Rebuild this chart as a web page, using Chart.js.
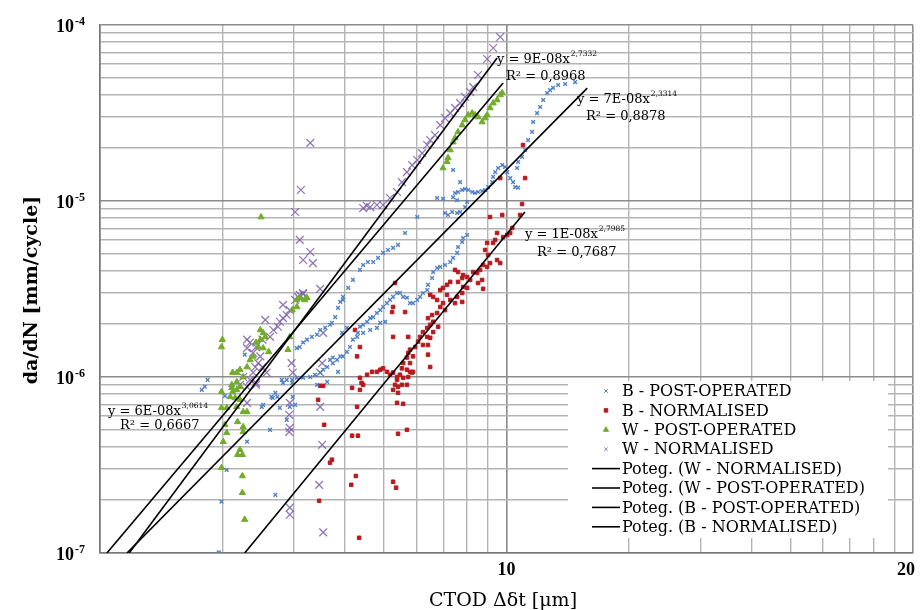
<!DOCTYPE html>
<html>
<head>
<meta charset="utf-8">
<script src="https://cdn.jsdelivr.net/npm/chart.js@4.4.0/dist/chart.umd.min.js"></script>
<style>
  body { margin: 0; background: #fff; }
  #wrap { width: 923px; height: 610px; }
</style>
</head>
<body>
<div id="wrap"><canvas id="fatigueChart" width="923" height="610"></canvas></div>
<script>
// da/dN vs CTOD - punkty pomiarowe [x, y]
const bPostOperated = [
  [6.75,1.04e-5],[6.98,1.03e-5],[7.39,1.05e-5],[7.47,1.11e-5],[7.60,1.125e-5],[7.78,1.155e-5],[7.91,1.17e-5],
  [8.05,1.155e-5],[8.23,1.125e-5],[8.37,1.11e-5],[8.51,1.125e-5],[8.71,1.14e-5],[8.86,1.155e-5],[9.01,1.20e-5],
  [9.22,1.28e-5],[9.27,1.37e-5],[9.38,1.46e-5],[9.54,1.54e-5],[9.76,1.60e-5],[9.92,1.56e-5],[10.04,1.46e-5],
  [10.21,1.35e-5],[10.38,1.28e-5],[10.50,1.20e-5],[10.68,1.19e-5],[10.62,1.54e-5],[10.68,1.67e-5],[10.92,1.78e-5],
  [11.11,1.95e-5],[11.30,2.22e-5],[11.56,2.47e-5],[11.63,2.81e-5],[11.89,3.16e-5],[12.10,3.42e-5],[12.31,3.75e-5],
  [12.59,4.11e-5],[12.80,4.27e-5],[13.02,4.39e-5],[13.40,4.56e-5],[13.94,4.62e-5],[14.75,4.74e-5],[7.39,1.50e-5],
  [7.69,1.28e-5],[7.06,8.55e-6],[7.18,8.33e-6],[7.35,8.66e-6],[7.56,8.55e-6],[7.69,8.66e-6],[7.91,9.24e-6],
  [8.00,9.87e-6],[7.56,1.01e-5],[6.03,8.11e-6],
  [8.00,6.41e-6],[7.82,6.16e-6],[7.78,5.85e-6],[7.60,5.48e-6],[7.56,5.07e-6],[7.39,4.75e-6],[7.27,4.50e-6],
  [7.06,4.33e-6],[6.87,4.22e-6],[6.75,4.16e-6],[6.60,3.95e-6],[6.56,3.65e-6],[6.41,3.34e-6],[6.38,3.12e-6],
  [6.23,3.0e-6],[6.13,2.85e-6],[6.03,2.74e-6],[5.89,2.63e-6],[5.79,2.63e-6],[5.69,2.82e-6],[5.57,2.85e-6],
  [5.47,3.0e-6],[5.38,3.0e-6],[5.26,2.85e-6],[5.17,2.74e-6],[5.08,2.63e-6],[4.97,2.50e-6],[4.89,2.40e-6],
  [4.80,2.31e-6],[4.70,2.19e-6],[4.62,2.16e-6],[4.54,2.06e-6],[4.44,1.98e-6],[4.36,1.93e-6],[4.31,1.78e-6],
  [4.44,1.78e-6],[4.62,1.85e-6],[4.80,1.90e-6],[4.89,2.03e-6],[5.03,2.06e-6],[4.29,1.69e-6],[4.19,1.63e-6],
  [4.12,1.48e-6],[4.05,1.39e-6],[3.96,1.31e-6],[3.90,1.31e-6],[3.83,1.25e-6],[3.74,1.20e-6],[3.85,1.07e-6],
  [5.63,6.58e-6],[5.41,5.63e-6],[5.26,5.41e-6],[5.11,5.27e-6],[4.97,5.07e-6],[4.83,4.75e-6],[4.70,4.50e-6],
  [4.56,4.50e-6],[4.44,4.33e-6],[4.36,4.06e-6],[4.19,3.56e-6],[4.08,3.21e-6],[3.96,2.74e-6],[3.85,2.47e-6],
  [3.79,2.19e-6],[3.72,2.03e-6],
  [3.96,2.85e-6],[3.90,2.67e-6],[3.68,1.98e-6],[3.58,1.90e-6],[3.48,1.85e-6],[3.42,1.74e-6],[3.32,1.69e-6],
  [3.23,1.63e-6],[3.16,1.57e-6],[3.10,1.48e-6],[3.05,1.46e-6],[4.05,1.90e-6],[3.94,1.78e-6],[3.74,1.29e-6],
  [3.68,1.25e-6],[3.62,1.14e-6],[3.54,1.10e-6],[3.48,1.06e-6],[3.38,1.03e-6],[3.29,1.00e-6],[3.16,9.9e-7],
  [3.05,9.9e-7],[2.97,9.63e-7],[2.88,9.63e-7],[2.80,9.63e-7],[2.73,7.71e-7],[2.66,7.61e-7],[2.27,1.34e-6],
  [2.70,8.13e-7],[2.64,7.71e-7],[2.52,6.95e-7],[2.50,6.77e-7],[2.77,6.68e-7],[2.93,6.77e-7],[3.02,6.95e-7],
  [2.98,7.71e-7],[2.88,5.71e-7],[2.62,5.01e-7],[2.30,4.29e-7],[2.05,2.97e-7],[2.70,2.14e-7],[1.99,1.96e-7],
  [1.96,1.01e-7],[2.03,7.82e-7],[1.78,8.45e-7],[1.81,8.80e-7],[1.84,9.63e-7],[2.97,9.26e-7],[2.82,9.26e-7],
  [3.42,9.03e-7],[3.62,9.38e-7]
];

const bNormalised = [
  [10.92,9.61e-6],[10.80,8.33e-6],[10.33,7.03e-6],[10.21,6.58e-6],[10.04,6.41e-6],[9.81,6.24e-6],[9.76,8.33e-6],
  [9.48,6.58e-6],[9.38,6.01e-6],[9.27,5.78e-6],[9.11,8.11e-6],[8.96,5.78e-6],[8.86,5.27e-6],[9.01,4.94e-6],
  [9.48,4.62e-6],[9.65,4.44e-6],[9.11,4.44e-6],[8.96,4.22e-6],[8.76,4.33e-6],[8.61,4.06e-6],[8.47,3.90e-6],
  [8.28,3.95e-6],[8.71,3.56e-6],[8.51,3.42e-6],[8.76,3.17e-6],[8.14,3.56e-6],[8.00,3.70e-6],[7.82,3.80e-6],
  [7.78,3.65e-6],[7.60,3.95e-6],[7.47,4.06e-6],[7.60,3.47e-6],[7.82,3.25e-6],[8.00,3.21e-6],[7.78,3.0e-6],
  [7.56,2.85e-6],[7.27,3.47e-6],[7.14,3.34e-6],[6.98,3.21e-6],[6.87,3.12e-6],[7.14,2.93e-6],[7.27,2.74e-6],
  [7.78,2.67e-6],[7.47,2.63e-6],[6.98,2.63e-6],[6.87,2.50e-6],[6.60,2.85e-6],[6.49,2.93e-6],[6.75,2.74e-6],
  [7.06,2.40e-6],[6.75,2.31e-6],[6.56,2.25e-6],[6.41,2.16e-6],[6.60,2.06e-6],[6.79,1.93e-6],[6.49,1.98e-6],
  [6.38,1.90e-6],[6.60,1.80e-6],[6.23,1.80e-6],[6.13,1.69e-6],[6.38,1.69e-6],[6.49,1.67e-6],[6.06,1.59e-6],
  [6.23,1.52e-6],[6.41,1.52e-6],[5.96,1.48e-6],[5.79,1.43e-6],[5.89,1.31e-6],[5.73,1.37e-6],[5.69,1.29e-6],
  [5.57,1.20e-6],[5.79,1.20e-6],[5.53,1.12e-6],[5.69,1.10e-6],[5.86,1.06e-6],[6.49,1.14e-6],[6.41,1.34e-6],
  [5.26,1.69e-6],[5.73,1.69e-6],[5.32,3.42e-6],[5.26,2.50e-6],[5.63,2.34e-6],[5.23,2.34e-6],[4.24,1.85e-6],
  [4.36,1.48e-6],[4.29,1.31e-6],
  [4.54,1.03e-6],[4.67,1.07e-6],[4.80,1.07e-6],[4.89,1.10e-6],[4.97,1.12e-6],[5.08,1.07e-6],[5.17,1.03e-6],
  [5.38,1.00e-6],[5.47,1.03e-6],[5.26,1.06e-6],
  [4.36,9.9e-7],[4.44,9.03e-7],[4.40,9.26e-7],[4.17,8.68e-7],[4.36,8.45e-7],[4.29,6.77e-7],[5.38,9.63e-7],
  [5.57,9.90e-7],[5.73,1.00e-6],[5.79,1.07e-6],[5.89,1.07e-6],[5.32,9.03e-7],[5.41,8.80e-7],[5.53,9.03e-7],
  [5.69,9.03e-7],[5.26,8.45e-7],[5.41,8.13e-7],[5.38,7.13e-7],[5.57,7.04e-7],[4.17,4.64e-7],[4.31,4.64e-7],
  [5.41,4.76e-7],[5.69,5.01e-7],[3.72,3.39e-7],[3.68,3.26e-7],[4.26,2.74e-7],[4.15,2.44e-7],[5.26,2.54e-7],
  [5.35,2.35e-7],[4.34,1.22e-7],[3.44,7.42e-7],[3.56,5.35e-7],[3.46,1.98e-7],[3.48,8.91e-7],[3.54,8.91e-7],
  [10.98,2.08e-5],[11.11,1.35e-5],[9.65,1.35e-5]
];

const wPostOperated = [
  [6.98,1.54e-5],[7.14,1.67e-5],[7.18,1.76e-5],[7.27,1.95e-5],[7.39,2.16e-5],[7.47,2.28e-5],[7.60,2.47e-5],
  [7.78,2.70e-5],[7.91,2.89e-5],[8.05,3.08e-5],[8.23,3.16e-5],[8.37,3.08e-5],[8.51,3.00e-5],[8.71,2.81e-5],
  [8.86,2.96e-5],[8.96,3.08e-5],[9.11,3.38e-5],[9.27,3.60e-5],[9.48,3.75e-5],[9.65,4.00e-5],[9.76,4.11e-5],
  [2.49,8.11e-6],[3.05,2.74e-6],[3.10,2.82e-6],[3.19,2.74e-6],[3.23,2.82e-6],[3.05,2.50e-6],[2.97,2.40e-6],
  [2.48,1.85e-6],[2.52,1.78e-6],[2.55,1.69e-6],[2.48,1.63e-6],[2.42,1.57e-6],[2.45,1.48e-6],[2.52,1.46e-6],
  [2.60,1.39e-6],[2.90,1.43e-6],[2.93,1.69e-6],[2.38,1.31e-6],[2.34,1.25e-6],[2.30,1.14e-6],[2.21,1.10e-6],
  [2.17,1.06e-6],[2.12,1.06e-6],[2.25,1.00e-6],[2.17,9.38e-7],[2.11,9.03e-7],[2.21,8.80e-7],[2.00,1.63e-6],
  [1.99,1.48e-6],[1.99,8.23e-7],[2.12,8.23e-7],[2.09,7.71e-7],[2.11,8.68e-7],[2.17,8.45e-7],[2.15,7.61e-7],
  [2.21,7.42e-7],[1.99,6.68e-7],[2.05,6.68e-7],[2.17,6.77e-7],[2.25,6.34e-7],[2.30,6.34e-7],[2.18,5.56e-7],
  [2.03,5.35e-7],[2.05,4.82e-7],[2.25,5.21e-7],[2.25,4.88e-7],[2.01,4.29e-7],[2.21,3.86e-7],[2.18,3.62e-7],
  [2.24,3.62e-7],[1.99,3.05e-7],[2.24,2.74e-7],[2.24,2.20e-7],[2.27,1.55e-7]
];

const wNormalised = [
  [4.44,9.12e-6],[4.53,9.4e-6],[4.62,9.24e-6],[4.80,9.49e-6],[4.97,9.49e-6],[5.17,1.04e-5],[5.38,1.125e-5],
  [5.53,1.28e-5],[5.69,1.46e-5],[5.86,1.60e-5],[6.03,1.71e-5],[6.20,1.87e-5],[6.38,2.08e-5],[6.49,2.22e-5],
  [6.67,2.37e-5],[6.87,2.70e-5],[7.06,2.96e-5],[7.27,3.16e-5],[7.47,3.38e-5],[7.69,3.60e-5],[7.91,3.90e-5],
  [8.14,4.16e-5],[8.28,4.44e-5],[8.51,5.20e-5],[8.96,6.41e-5],[9.27,7.40e-5],[9.65,8.55e-5],
  [3.02,8.66e-6],[3.12,1.155e-5],[3.29,2.14e-5],[3.10,6.01e-6],[3.29,5.13e-6],[3.16,4.62e-6],[3.34,4.44e-6],
  [3.48,3.17e-6],[3.16,2.96e-6],[3.07,2.85e-6],[3.02,2.74e-6],[3.10,2.93e-6],[2.93,2.40e-6],[2.88,2.25e-6],
  [2.82,2.16e-6],[2.77,2.06e-6],[2.74,1.93e-6],[2.67,1.85e-6],[2.62,1.69e-6],[2.51,1.63e-6],[2.42,1.48e-6],
  [2.34,1.57e-6],[2.30,1.63e-6],[2.30,1.46e-6],[2.38,1.37e-6],[2.48,1.31e-6],[2.45,1.20e-6],[2.41,1.14e-6],
  [2.51,1.14e-6],[2.57,1.06e-6],[2.38,1.06e-6],[2.34,9.63e-7],[2.25,1.00e-6],[2.21,9.03e-7],[2.30,8.80e-7],
  [2.42,9.26e-7],[2.42,9.03e-7],[2.30,7.13e-7],[2.93,7.13e-7],[2.92,6.10e-7],[2.93,5.14e-7],[2.92,4.88e-7],
  [3.48,6.77e-7],[3.54,1.78e-6],[3.52,1.20e-6],[3.48,1.06e-6],[2.96,1.20e-6],[2.98,1.06e-6],[3.16,3.0e-6],
  [3.52,4.12e-7],[3.46,2.44e-7],[2.93,1.81e-7],[2.93,1.65e-7],[3.54,1.31e-7],[2.55,2.11e-6],[2.82,2.57e-6]
];

// linie trendu (potęgowe) - końce odcinków
const trendWNormalised = [[1.04, 1e-7], [9.81, 4.68e-5]];
const trendWPostOperated = [[1.18, 1e-7], [9.48, 6.49e-5]];
const trendBPostOperated = [[1.165, 1e-7], [15.8, 4.38e-5]];
const trendBNormalised = [[2.27, 1e-7], [11.1, 8.66e-6]];

// podpisy osi
const xTickLabels = [[10, '10'], [100, '20']];
const yTickExponents = [-7, -6, -5, -4];

// równania linii trendu
const fitEquations = [
  { coef: 'y = 9E-08x', power: '2,7332', r2: 'R² = 0,8968', x: 497, y: 60, rx: 506, ry: 77 },
  { coef: 'y = 7E-08x', power: '2,3314', r2: 'R² = 0,8878', x: 577, y: 100, rx: 586, ry: 117 },
  { coef: 'y = 1E-08x', power: '2,7985', r2: 'R² = 0,7687', x: 525, y: 235, rx: 537, ry: 253 },
  { coef: 'y = 6E-08x', power: '3,0614', r2: 'R² = 0,6667', x: 108, y: 412, rx: 120, ry: 426 }
];

function toPoints(arr) {
  return arr.map(p => ({ x: p[0], y: p[1] }));
}

// ticki co 1,2,...,9 w każdej dekadzie
function decadeTicks(minExp, maxExp) {
  const ticks = [];
  for (let e = minExp; e < maxExp; e++) {
    for (let k = 1; k <= 9; k++) {
      ticks.push({ value: k * Math.pow(10, e) });
    }
  }
  ticks.push({ value: Math.pow(10, maxExp) });
  return ticks;
}

function isDecade(v) {
  const l = Math.log10(v);
  return Math.abs(l - Math.round(l)) < 1e-6;
}

function pointSet(label, data, style, color, radius, width) {
  return {
    label: label,
    data: toPoints(data),
    showLine: false,
    pointStyle: style,
    pointRadius: radius,
    pointBorderWidth: width,
    pointBackgroundColor: color,
    pointBorderColor: color,
    order: 1
  };
}

function trendSet(label, data) {
  return {
    type: 'line',
    label: label,
    data: toPoints(data),
    showLine: true,
    borderColor: '#000',
    borderWidth: 1.6,
    pointRadius: 0,
    fill: false,
    order: 0
  };
}

const serif = '"DejaVu Serif", serif';
const timesFont = '"Liberation Serif", serif';

// napisy, legenda, osie
const textPlugin = {
  id: 'texts',
  afterDraw(chart) {
    const ctx = chart.ctx;
    const xs = chart.scales.x, ys = chart.scales.y;
    ctx.save();
    ctx.fillStyle = '#000';
    ctx.textBaseline = 'alphabetic';

    yTickExponents.forEach(e => {
      const py = ys.getPixelForValue(Math.pow(10, e));
      ctx.font = 'bold 18px ' + timesFont;
      ctx.textAlign = 'right';
      ctx.fillText('10', 74, py + 7);
      ctx.font = 'bold 12px ' + timesFont;
      ctx.textAlign = 'left';
      ctx.fillText('-' + Math.abs(e), 75, py);
    });

    ctx.font = 'bold 18px ' + timesFont;
    ctx.textAlign = 'center';
    xTickLabels.forEach(t => {
      const w = ctx.measureText(t[1]).width;
      const px = Math.min(xs.getPixelForValue(t[0]), chart.width - w / 2 - 8);
      ctx.fillText(t[1], px, 575);
    });

    ctx.font = '19px ' + serif;
    ctx.fillText('CTOD Δδt [μm]', 503, 606);

    ctx.save();
    ctx.translate(37, 290);
    ctx.rotate(-Math.PI / 2);
    ctx.font = 'bold 19px ' + serif;
    ctx.fillText('da/dN [mm/cycle]', 0, 0);
    ctx.restore();

    // równania
    ctx.textAlign = 'left';
    ctx.textBaseline = 'middle';
    fitEquations.forEach(f => {
      ctx.font = '13px ' + serif;
      ctx.fillText(f.coef, f.x, f.y);
      const w = ctx.measureText(f.coef).width;
      ctx.font = '7.5px ' + serif;
      ctx.fillText(f.power, f.x + w + 1, f.y - 6);
      ctx.font = '13px ' + serif;
      ctx.fillText(f.r2, f.rx, f.ry);
    });

    // legenda
    ctx.fillStyle = '#fff';
    ctx.fillRect(568, 381, 320, 157);
    chart.data.datasets.forEach((ds, i) => {
      const cy = 391 + i * 19.4;
      if (ds.type === 'line') {
        ctx.strokeStyle = ds.borderColor;
        ctx.lineWidth = 1.6;
        ctx.beginPath();
        ctx.moveTo(592, cy);
        ctx.lineTo(620, cy);
        ctx.stroke();
      } else {
        ctx.strokeStyle = ds.pointBorderColor;
        ctx.fillStyle = ds.pointBackgroundColor;
        Chart.helpers.drawPoint(ctx, {
          pointStyle: ds.pointStyle,
          radius: ds.pointStyle === 'triangle' ? 3 : 2.5,
          borderWidth: 1.2,
          rotation: 0
        }, 606, cy);
      }
      ctx.fillStyle = '#000';
      ctx.font = '16px ' + serif;
      ctx.fillText(ds.label, 622, cy + 1);
    });
    ctx.restore();
  }
};

const gridColor = c => isDecade(c.tick.value) ? '#8c8c8c' : '#b4b4b4';
const gridWidth = c => isDecade(c.tick.value) ? 1.6 : 1.4;

function initChart() {
  const ctx = document.getElementById('fatigueChart').getContext('2d');
  new Chart(ctx, {
    type: 'scatter',
    data: {
      datasets: [
        pointSet('B - POST-OPERATED', bPostOperated, 'crossRot', '#4f81c4', 2.6, 1.4),
        pointSet('B - NORMALISED', bNormalised, 'rect', '#b8191e', 2.5, 1),
        pointSet('W - POST-OPERATED', wPostOperated, 'triangle', '#72ac2c', 3.6, 1),
        pointSet('W - NORMALISED', wNormalised, 'crossRot', 'rgba(126,96,170,0.85)', 5.5, 1.3),
        trendSet('Poteg. (W - NORMALISED)', trendWNormalised),
        trendSet('Poteg. (W - POST-OPERATED)', trendWPostOperated),
        trendSet('Poteg. (B - POST-OPERATED)', trendBPostOperated),
        trendSet('Poteg. (B - NORMALISED)', trendBNormalised)
      ]
    },
    options: {
      responsive: false,
      animation: false,
      layout: { padding: { top: 25, right: 10, left: 0, bottom: 0 } },
      plugins: {
        legend: { display: false },
        tooltip: { enabled: false }
      },
      scales: {
        x: {
          type: 'logarithmic',
          min: 1,
          max: 100,
          afterBuildTicks: s => { s.ticks = decadeTicks(0, 2); },
          afterFit: s => { s.height = 57; },
          ticks: { display: false },
          grid: { color: gridColor, lineWidth: gridWidth, drawTicks: false },
          border: { color: '#7a7a7a', width: 1.6 }
        },
        y: {
          type: 'logarithmic',
          min: 1e-7,
          max: 1e-4,
          afterBuildTicks: s => { s.ticks = decadeTicks(-7, -4); },
          afterFit: s => { s.width = 100; },
          ticks: { display: false },
          grid: { color: gridColor, lineWidth: gridWidth, drawTicks: false },
          border: { color: '#7a7a7a', width: 1.6 }
        }
      }
    },
    plugins: [textPlugin]
  });
}

document.addEventListener('DOMContentLoaded', initChart);
</script>
</body>
</html>
